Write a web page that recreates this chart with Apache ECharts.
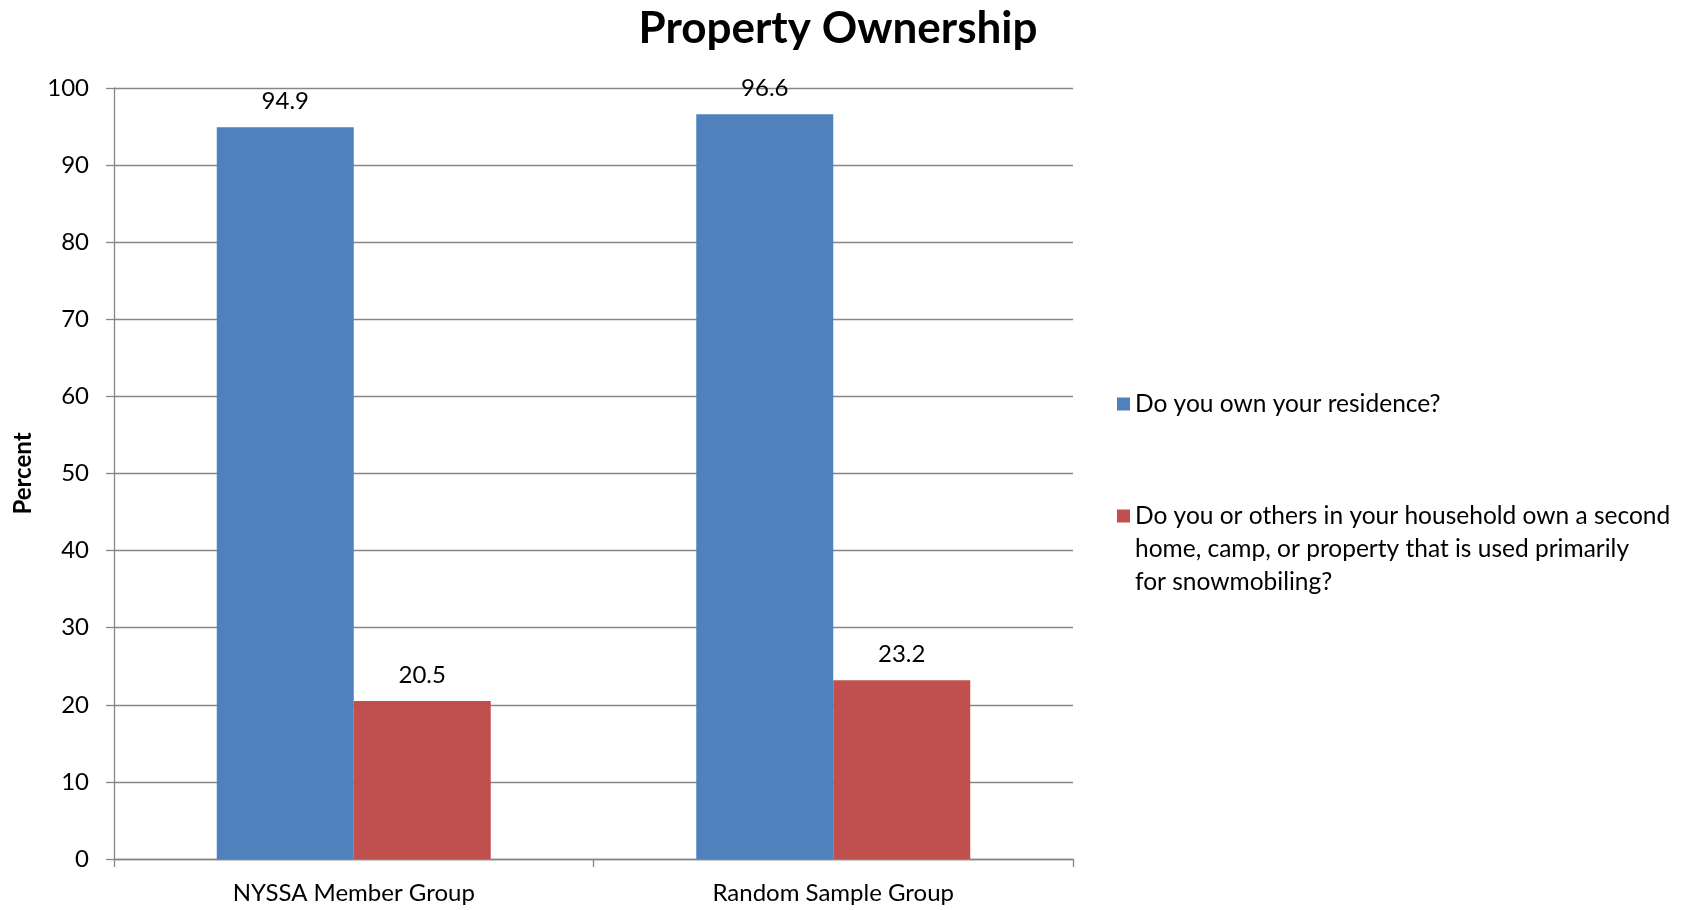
<!DOCTYPE html>
<html>
<head>
<meta charset="utf-8">
<script src="https://cdn.jsdelivr.net/npm/echarts@6/dist/echarts.min.js"></script>
<style>
  html, body { margin: 0; padding: 0; background: #fff; }
  #chart { width: 1690px; height: 910px; }
</style>
</head>
<body>
<div id="chart"></div>
<script>
// Survey groups on the category axis
const categories = ['NYSSA Member Group', 'Random Sample Group'];

// Series names (legend entries)
const seriesNames = [
  'Do you own your residence?',
  'Do you or others in your household own a second home, camp, or property that is used primarily for snowmobiling?'
];

// Legend text, broken into lines
const legendLines = [
  ['Do you own your residence?'],
  ['Do you or others in your household own a second', 'home, camp, or property that is used primarily', 'for snowmobiling?']
];

// Percent answering yes
const ownResidence = [94.9, 96.6];
const secondHome = [20.5, 23.2];

// Value axis
const yMin = 0;
const yMax = 100;
const yStep = 10;

const FONT = 'Lato';
const GRID = '#868686';
const LEGEND_LH = 33;

const chart = echarts.init(document.getElementById('chart'), null, { renderer: 'canvas' });

const barLabel = {
  show: true,
  position: 'top',
  distance: 14,
  color: '#000',
  fontFamily: FONT,
  fontSize: 24
};

// Legend text is centred on its swatch, so blank lines are added above
// a wrapped entry to keep the swatch level with the first line.
function legendFor(i, iconCenterY) {
  const lines = legendLines[i];
  const pad = lines.length - 1;
  const shown = Array(pad).fill(' ').concat(lines);
  return {
    data: [seriesNames[i]],
    left: 1117,
    top: iconCenterY - (shown.length * LEGEND_LH) / 2,
    padding: 0,
    orient: 'vertical',
    icon: 'rect',
    itemWidth: 13,
    itemHeight: 13,
    selectedMode: false,
    formatter: () => shown.join('\n'),
    textStyle: {
      fontFamily: FONT,
      fontSize: 24.5,
      color: '#000',
      lineHeight: LEGEND_LH
    }
  };
}

chart.setOption({
  backgroundColor: '#fff',
  animation: false,
  title: {
    text: 'Property Ownership',
    left: 838,
    top: 7,
    padding: 0,
    textAlign: 'center',
    textStyle: {
      fontFamily: FONT,
      fontWeight: 'bold',
      fontSize: 44,
      color: '#000'
    }
  },
  legend: [
    legendFor(0, 404),
    legendFor(1, 516)
  ],
  grid: {
    left: 114,
    right: 1690 - 1073,
    top: 88,
    bottom: 910 - 859,
    containLabel: false
  },
  xAxis: {
    type: 'category',
    data: categories,
    boundaryGap: true,
    axisLine: { show: true, lineStyle: { color: GRID, width: 1.3 } },
    axisTick: { show: true, length: 8, inside: false, alignWithLabel: false, lineStyle: { color: GRID, width: 1.3 } },
    axisLabel: {
      margin: 22,
      color: '#000',
      fontFamily: FONT,
      fontSize: 24
    },
    splitLine: { show: false }
  },
  yAxis: {
    type: 'value',
    min: yMin,
    max: yMax,
    interval: yStep,
    name: 'Percent',
    nameLocation: 'middle',
    nameGap: 79,
    nameRotate: 90,
    nameTextStyle: {
      fontFamily: FONT,
      fontWeight: 'bold',
      fontSize: 24,
      color: '#000'
    },
    axisLine: { show: true, lineStyle: { color: GRID, width: 1.3 } },
    axisTick: { show: true, length: 8, inside: false, lineStyle: { color: GRID, width: 1.3 } },
    axisLabel: {
      margin: 25,
      color: '#000',
      fontFamily: FONT,
      fontSize: 24
    },
    splitLine: { show: true, lineStyle: { color: GRID, width: 1.3 } }
  },
  series: [
    {
      name: seriesNames[0],
      type: 'bar',
      data: ownResidence,
      barGap: '0%',
      barCategoryGap: '42.86%',
      itemStyle: { color: '#4F81BD' },
      label: barLabel
    },
    {
      name: seriesNames[1],
      type: 'bar',
      data: secondHome,
      barGap: '0%',
      barCategoryGap: '42.86%',
      itemStyle: { color: '#C0504D' },
      label: barLabel
    }
  ]
});
</script>
</body>
</html>
